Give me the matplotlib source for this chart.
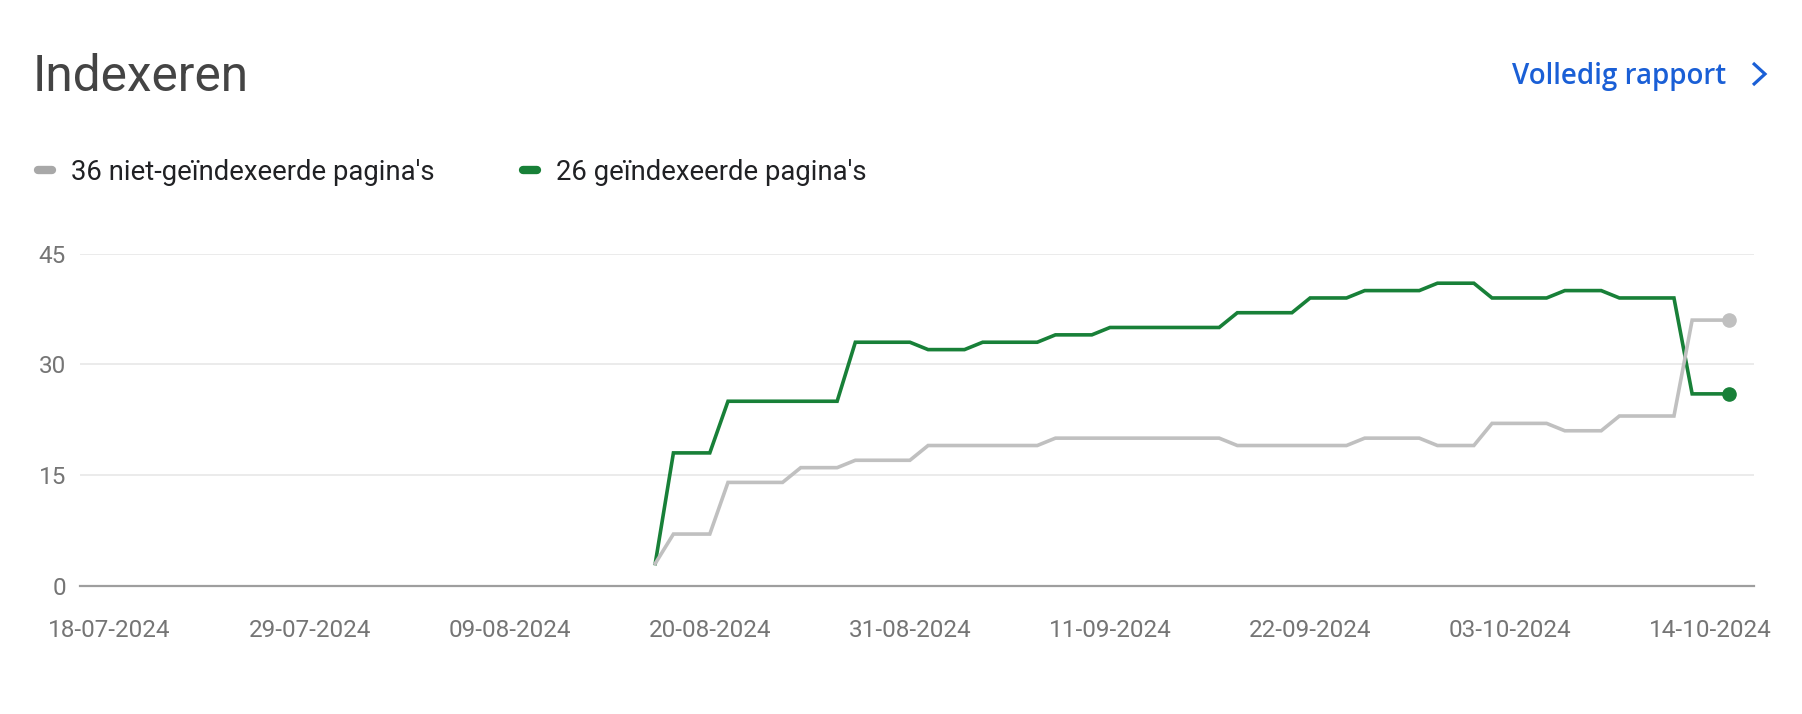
import matplotlib
matplotlib.use('Agg')
import matplotlib.pyplot as plt
import pandas as pd
from matplotlib.lines import Line2D

# ---------------- data ----------------
title = "Indexeren"
link_text = "Volledig rapport"
series_names = ["36 niet-geïndexeerde pagina's", "26 geïndexeerde pagina's"]
start_date = "2024-08-17"
not_indexed = [3, 7, 7, 7, 14, 14, 14, 14, 16, 16, 16, 17, 17, 17, 17,
               19, 19, 19, 19, 19, 19, 19, 20, 20, 20, 20, 20, 20, 20, 20, 20, 20,
               19, 19, 19, 19, 19, 19, 19, 20, 20, 20, 20, 19, 19, 19,
               22, 22, 22, 22, 21, 21, 21, 23, 23, 23, 23, 36, 36, 36]
indexed = [3, 18, 18, 18, 25, 25, 25, 25, 25, 25, 25, 33, 33, 33, 33,
           32, 32, 32, 33, 33, 33, 33, 34, 34, 34, 35, 35, 35, 35, 35, 35, 35,
           37, 37, 37, 37, 39, 39, 39, 40, 40, 40, 40, 41, 41, 41,
           39, 39, 39, 39, 40, 40, 40, 39, 39, 39, 39, 26, 26, 26]
x_tick_labels = ["18-07-2024", "29-07-2024", "09-08-2024", "20-08-2024", "31-08-2024",
                 "11-09-2024", "22-09-2024", "03-10-2024", "14-10-2024"]
y_ticks = [0, 15, 30, 45]

dates = pd.date_range(start_date, periods=len(indexed), freq="D")
tick_dates = pd.to_datetime(x_tick_labels, format="%d-%m-%Y")

# ---------------- style ----------------
W, H, DPI = 1802, 714, 100
GREEN = "#188038"
GREY_LINE = "#c0c0c0"
GREY_LEG = "#a8a8a8"
BLUE = "#1a5fd6"
TICK_C = "#757575"
plt.rcParams['font.family'] = ['Roboto', 'DejaVu Sans']

fig = plt.figure(figsize=(W / DPI, H / DPI), dpi=DPI)
fig.patch.set_facecolor("white")

def fx(px):
    return px / W

def fy(py):
    return 1 - py / H

ax_left, ax_right = 80, 1754
ax_top, ax_bottom = 253.7, 585.7
ax = fig.add_axes([fx(ax_left), fy(ax_bottom), fx(ax_right - ax_left), (ax_bottom - ax_top) / H])

ax.plot(dates, indexed, color=GREEN, lw=2.6, solid_joinstyle='miter', zorder=3)
ax.plot(dates[-1:], indexed[-1:], 'o', color=GREEN, ms=9.5, zorder=4)
ax.plot(dates, not_indexed, color=GREY_LINE, lw=2.6, solid_joinstyle='miter', zorder=3)
ax.plot(dates[-1:], not_indexed[-1:], 'o', color=GREY_LINE, ms=9.5, zorder=4)

x0 = tick_dates[0]
ax.set_xlim(x0 - pd.Timedelta(days=1.62), x0 + pd.Timedelta(days=90.4))
ax.set_ylim(0, 45)

ax.set_yticks(y_ticks)
ax.set_xticks(tick_dates)
ax.set_xticklabels(x_tick_labels)
ax.tick_params(axis='both', length=0, labelsize=17.5, labelcolor=TICK_C)
ax.tick_params(axis='x', pad=24)
ax.tick_params(axis='y', pad=10)

for s in ['top', 'right', 'left']:
    ax.spines[s].set_visible(False)
ax.spines['bottom'].set_color("#9e9e9e")
ax.spines['bottom'].set_linewidth(1.6)
ax.spines['bottom'].set_zorder(5)
ax.yaxis.grid(True, color="#e8e8e8", lw=1.2)
ax.set_axisbelow(True)
ax.set_facecolor("white")

# ---------------- header ----------------
fig.text(fx(33), fy(91), title, fontsize=35.7, color="#444444", ha='left', va='baseline',
         family=['Roboto', 'DejaVu Sans'])
fig.text(fx(1512), fy(84), link_text, fontsize=20, color=BLUE, ha='left', va='baseline',
         family=['Open Sans', 'DejaVu Sans'], fontweight='semibold')
fig.add_artist(Line2D([fx(1753), fx(1765), fx(1753)], [fy(63), fy(74), fy(85)],
                      color=BLUE, lw=2.3, solid_joinstyle='miter', solid_capstyle='butt'))

# ---------------- legend ----------------
leg_y = 170
fig.add_artist(Line2D([fx(38), fx(52)], [fy(leg_y), fy(leg_y)], color=GREY_LEG, lw=6,
                      solid_capstyle='round'))
fig.text(fx(71), fy(leg_y), series_names[0], fontsize=19.85, color="#202124", ha='left',
         va='center_baseline')
fig.add_artist(Line2D([fx(523), fx(537)], [fy(leg_y), fy(leg_y)], color=GREEN, lw=6,
                      solid_capstyle='round'))
fig.text(fx(556), fy(leg_y), series_names[1], fontsize=19.85, color="#202124", ha='left',
         va='center_baseline')

fig.savefig("out.png", dpi=DPI, facecolor="white")
